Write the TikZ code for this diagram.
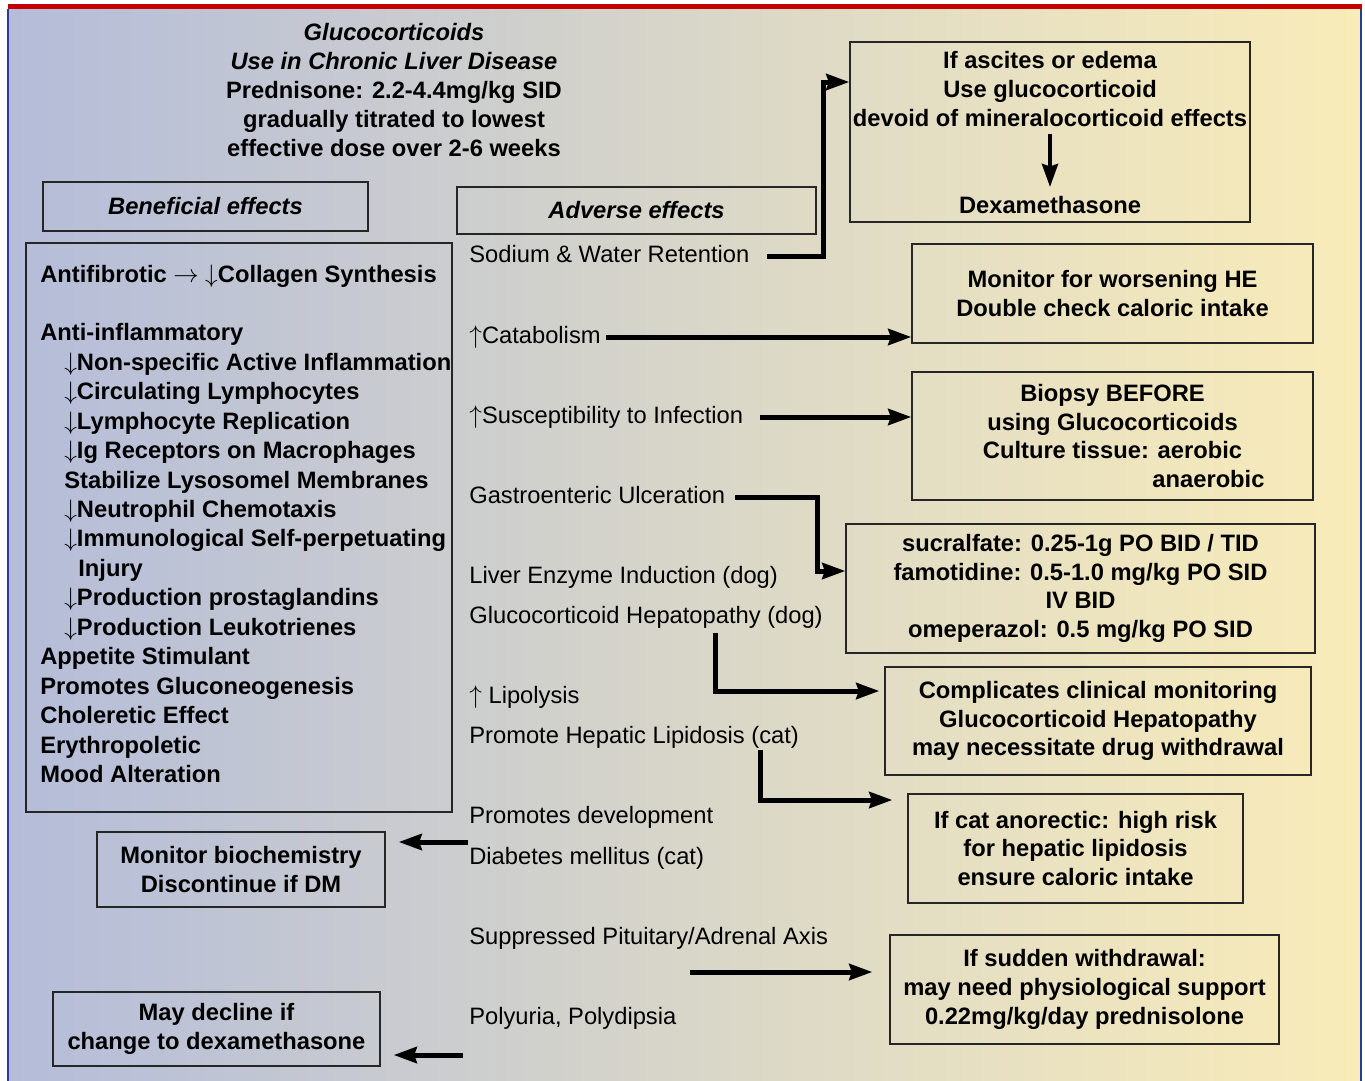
\documentclass[tikz,border=0pt]{standalone}
\usepackage{fontspec}
\setmainfont{Liberation Sans}
\usepackage{tikz}
\usetikzlibrary{arrows.meta}
\usetikzlibrary{positioning}

\definecolor{bgLeft}{RGB}{180,188,217}
\definecolor{bgMid}{RGB}{216,214,201}
\definecolor{bgRight}{RGB}{249,236,185}
\definecolor{topRed}{RGB}{196,0,0}
\definecolor{sideBlue}{RGB}{40,60,150}

\newcommand{\diagfont}{\fontsize{13.5}{16.4}\selectfont}

\begin{document}
\begin{tikzpicture}
      [x=0.02cm,y=-0.02cm,
       effectBox/.style={rectangle,draw=black!85,line width=0.8pt,inner sep=0pt},
       boxText/.style={font=\diagfont\bfseries,align=center,inner sep=0pt},
       sideText/.style={font=\diagfont,anchor=west,inner sep=0pt,text height=11pt,text depth=3.5pt},
       benLine/.style={font=\diagfont\bfseries,inner sep=0pt,text height=11pt,text depth=3.5pt,node distance=1.88pt},
       flow/.style={line width=0.1cm,-{Stealth[length=0.46cm,width=0.32cm,inset=0.05cm]}}]
      \useasboundingbox (0,0) rectangle (1365,1081);
      % background and frame
      \shade[left color=bgLeft,right color=bgRight,middle color=bgMid] (8,9) rectangle (1361,1081);
      \draw[sideBlue,line width=0.03cm] (8,9) -- (8,1081) (1361,9) -- (1361,1081);
      \draw[topRed,line width=0.1cm] (8,7) -- (1362,7);

      \node[boxText] (title) at (394,90) {{\itshape Glucocorticoids}\\{\itshape Use in Chronic Liver Disease}\\Prednisone: 2.2-4.4mg/kg SID\\gradually titrated to lowest\\effective dose over 2-6 weeks};

      % left column
      \node[effectBox,boxText,minimum width=6.5cm,minimum height=0.98cm] (benHead) at (205.5,206.5) {\itshape Beneficial effects};
      \node[effectBox,minimum width=8.52cm,minimum height=11.38cm] (benBox) at (239,527.5) {};
      \node[benLine] (antiFib) at (238.5,276) {Antifibrotic $\rightarrow$ $\downarrow$Collagen Synthesis};
      \node[benLine,anchor=west] (ben1) at (40,334) {Anti-inflammatory};
      \node[benLine] (ben2) [below=of ben1.south west,anchor=north west,xshift=0.48cm] {$\downarrow$Non-specific Active Inflammation};
      \node[benLine] (ben3) [below=of ben2.south west,anchor=north west] {$\downarrow$Circulating Lymphocytes};
      \node[benLine] (ben4) [below=of ben3.south west,anchor=north west] {$\downarrow$Lymphocyte Replication};
      \node[benLine] (ben5) [below=of ben4.south west,anchor=north west] {$\downarrow$Ig Receptors on Macrophages};
      \node[benLine] (ben6) [below=of ben5.south west,anchor=north west] {Stabilize Lysosomel Membranes};
      \node[benLine] (ben7) [below=of ben6.south west,anchor=north west] {$\downarrow$Neutrophil Chemotaxis};
      \node[benLine] (ben8) [below=of ben7.south west,anchor=north west] {$\downarrow$Immunological Self-perpetuating};
      \node[benLine] (ben9) [below=of ben8.south west,anchor=north west,xshift=0.28cm] {Injury};
      \node[benLine] (ben10) [below=of ben9.south west,anchor=north west,xshift=-0.28cm] {$\downarrow$Production prostaglandins};
      \node[benLine] (ben11) [below=of ben10.south west,anchor=north west] {$\downarrow$Production Leukotrienes};
      \node[benLine] (ben12) [below=of ben11.south west,anchor=north west,xshift=-0.48cm] {Appetite Stimulant};
      \node[benLine] (ben13) [below=of ben12.south west,anchor=north west] {Promotes Gluconeogenesis};
      \node[benLine] (ben14) [below=of ben13.south west,anchor=north west] {Choleretic Effect};
      \node[benLine] (ben15) [below=of ben14.south west,anchor=north west] {Erythropoletic};
      \node[benLine] (ben16) [below=of ben15.south west,anchor=north west] {Mood Alteration};
      \node[effectBox,boxText,minimum width=5.76cm,minimum height=1.5cm] (dmBox) at (241,869.5) {Monitor biochemistry\\Discontinue if DM};
      \node[effectBox,boxText,minimum width=6.54cm,minimum height=1.48cm] (dexBox) at (216.5,1029) {May decline if\\change to dexamethasone};

      % middle column
      \node[effectBox,boxText,minimum width=7.18cm,minimum height=0.94cm] (advHead) at (636.5,210.5) {\itshape Adverse effects};
      \node[sideText] (sodium) at (469,256) {Sodium \& Water Retention};
      \node[sideText] (catab) at (469,337) {$\uparrow$Catabolism};
      \node[sideText] (suscept) at (469,417) {$\uparrow$Susceptibility to Infection};
      \node[sideText] (gastro) at (469,497) {Gastroenteric Ulceration};
      \node[sideText] (liverEnz) at (469,577) {Liver Enzyme Induction (dog)};
      \node[sideText] (hepato) at (469,617) {Glucocorticoid Hepatopathy (dog)};
      \node[sideText] (lipoly) at (469,697) {$\uparrow$ Lipolysis};
      \node[sideText] (lipid) at (469,737) {Promote Hepatic Lipidosis (cat)};
      \node[sideText] (promDev) at (469,817) {Promotes development};
      \node[sideText] (diabetes) at (469,858) {Diabetes mellitus (cat)};
      \node[sideText] (pituit) at (469,938) {Suppressed Pituitary/Adrenal Axis};
      \node[sideText] (polyuria) at (469,1018) {Polyuria, Polydipsia};

      % right column
      \node[effectBox,minimum width=8cm,minimum height=3.6cm] (ascBox) at (1050,132) {};
      \node[boxText] (ascText) at (1050,89) {If ascites or edema\\Use glucocorticoid\\devoid of mineralocorticoid effects};
      \node[boxText] (dexa) at (1050,205) {Dexamethasone};
      \node[effectBox,boxText,minimum width=8.02cm,minimum height=1.98cm] (heBox) at (1112.5,293.5) {Monitor for worsening HE\\Double check caloric intake};
      \node[effectBox,boxText,minimum width=8.02cm,minimum height=2.56cm] (biopsyBox) at (1112.5,436) {Biopsy BEFORE\\using Glucocorticoids\\Culture tissue: aerobic\\\hspace*{3.84cm}anaerobic};
      \node[effectBox,boxText,minimum width=9.38cm,minimum height=2.58cm] (ulcerBox) at (1080.5,588.5) {sucralfate: 0.25-1g PO BID / TID\\famotidine: 0.5-1.0 mg/kg PO SID\\IV BID\hspace*{0.56cm}\\omeperazol: 0.5 mg/kg PO SID};
      \node[effectBox,boxText,minimum width=8.52cm,minimum height=2.16cm] (monitorBox) at (1098,721) {Complicates clinical monitoring\\Glucocorticoid Hepatopathy\\may necessitate drug withdrawal};
      \node[effectBox,boxText,minimum width=6.7cm,minimum height=2.18cm] (catBox) at (1075.5,848.5) {If cat anorectic: high risk\\for hepatic lipidosis\\ensure caloric intake};
      \node[effectBox,boxText,minimum width=7.78cm,minimum height=2.18cm] (withdrawBox) at (1084.5,989.5) {If sudden withdrawal:\\may need physiological support\\0.22mg/kg/day prednisolone};

      % connectors
      \coordinate (hepDrop) at (715,633);
      \coordinate (lipidDrop) at (760,750);
      \coordinate (diabStart) at (468,842);
      \coordinate (pitStart) at (690,972);
      \coordinate (polyStart) at (463,1055);
      \draw[flow] ([xshift=0.34cm]sodium.east) -- ++(57,0) |- ([yshift=1cm]ascBox.west);
      \draw[flow,line width=0.08cm,shorten <=0.14cm,shorten >=0.18cm] (ascText.south) -- (dexa.north);
      \draw[flow] ([xshift=0.1cm]catab.east) -- (catab.east -| heBox.west);
      \draw[flow] ([xshift=0.34cm]suscept.east) -- (suscept.east -| biopsyBox.west);
      \draw[flow] ([xshift=0.2cm]gastro.east) -- ++(82,0) |- ([yshift=0.12cm]liverEnz.east -| ulcerBox.west);
      \draw[flow,shorten >=0.1cm] (hepDrop) |- ([yshift=0.6cm]monitorBox.west);
      \draw[flow,shorten >=0.3cm] (lipidDrop) |- ([yshift=0.97cm]catBox.west);
      \draw[flow,shorten >=0.26cm] (diabStart) -- (diabStart -| dmBox.east);
      \draw[flow,shorten >=0.34cm] (pitStart) -- (pitStart -| withdrawBox.west);
      \draw[flow,shorten >=0.26cm] (polyStart) -- (polyStart -| dexBox.east);
    \end{tikzpicture}
\end{document}
